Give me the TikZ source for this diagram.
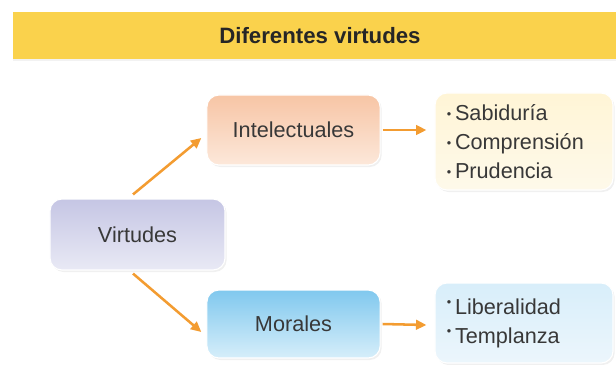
\documentclass[tikz,border=0pt]{standalone}
\usepackage{fontspec}
\setmainfont{Liberation Sans}
\usetikzlibrary{arrows.meta,shadows}
\definecolor{barra}{HTML}{FAD24C}
\definecolor{texto}{HTML}{383838}
\definecolor{naranja}{HTML}{F39C31}
\newcommand{\punto}{\raisebox{1.2pt}{\fontsize{9}{9}\selectfont\textbullet}\,}
\newcommand{\puntoalto}{\raisebox{5.5pt}{\fontsize{9}{9}\selectfont\textbullet}\,}

\begin{document}
\begin{tikzpicture}[x=0.025cm,y=-0.025cm,
    caja/.style={rounded corners=0.3cm,minimum width=4.33cm,minimum height=1.75cm,
      font=\fontsize{15.4}{18}\selectfont,text=texto,draw=white,line width=0.8pt,
      drop shadow={opacity=0.12,shadow xshift=0.04cm,shadow yshift=-0.05cm}},
    lista/.style={caja,text width=3.85cm,align=left,inner xsep=0.3cm,
      font=\fontsize{15.4}{20.5}\selectfont},
    flecha/.style={draw=naranja,line width=1.8pt,-{Triangle[length=0.26cm,width=0.24cm]}}]
    \useasboundingbox (0,0) rectangle (616,364);
    \node[fill=barra,minimum width=15.075cm,minimum height=1.1625cm,
      drop shadow={opacity=0.1,shadow xshift=0cm,shadow yshift=-0.04cm}] (barra) at (314.5,35.75) {};
    \node[font=\fontsize{15.8}{18}\selectfont\bfseries,text=black!85] (titulo) at (320,35.5) {Diferentes virtudes};
    \node[caja,minimum width=4.375cm,minimum height=1.775cm,
      top color={rgb,255:red,197;green,198;blue,228},bottom color={rgb,255:red,233;green,233;blue,245}]
      (virt) at (137.5,234.5) {Virtudes};
    \node[caja,top color={rgb,255:red,247;green,197;blue,165},bottom color={rgb,255:red,252;green,232;blue,218}]
      (intel) at (293.5,130) {Intelectuales};
    \node[caja,minimum height=1.7cm,top color={rgb,255:red,128;green,200;blue,238},bottom color={rgb,255:red,214;green,238;blue,250}]
      (moral) at (293.5,324) {Morales};
    \node[lista,minimum height=2.425cm,top color={rgb,255:red,255;green,245;blue,214},bottom color={rgb,255:red,254;green,249;blue,234}]
      (listI) at (524,141.5) {\punto Sabiduría\\ \punto Comprensión\\ \punto Prudencia};
    \node[lista,minimum height=2cm,top color={rgb,255:red,216;green,238;blue,250},bottom color={rgb,255:red,236;green,246;blue,252}]
      (listM) at (524,323) {\puntoalto Liberalidad\\ \puntoalto Templanza};
    \draw[flecha] ([shift={(-4.5,-4)}]virt.north) -- ([shift={(-5,8)}]intel.west);
    \draw[flecha] ([shift={(-4.5,3)}]virt.south) -- ([shift={(-5,8)}]moral.west);
    \draw[flecha] ([shift={(2,0)}]intel.east) -- ([shift={(-8,-11.5)}]listI.west);
    \draw[flecha] ([shift={(2,0)}]moral.east) -- ([shift={(-8,2)}]listM.west);
\end{tikzpicture}
\end{document}
